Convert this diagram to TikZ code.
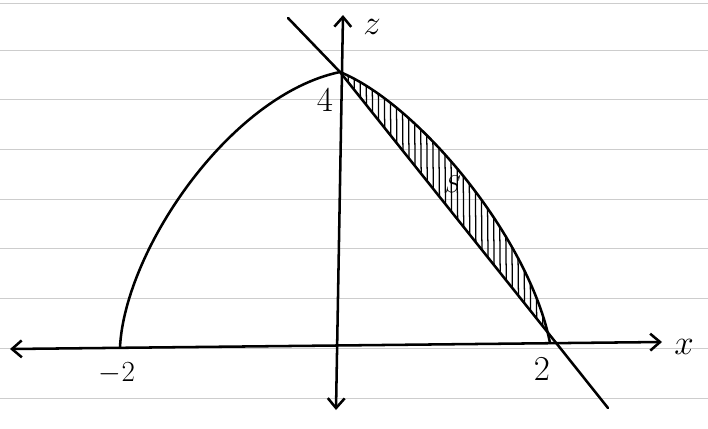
\documentclass[tikz,border=0pt]{standalone}
\usetikzlibrary{arrows.meta}
\definecolor{paperline}{RGB}{205,205,205}

\begin{document}
\begin{tikzpicture}[
    x=0.025cm, y=-0.025cm,
    ink/.style={line width=1.8pt, line cap=round, line join=round},
    hatch/.style={line width=0.9pt},
    lbl/.style={font=\fontsize{#1}{#1}\selectfont, inner sep=0pt},
    axis/.style={ink, {Straight Barb[length=7pt,width=12pt]}-{Straight Barb[length=7pt,width=12pt]}}
  ]
  \useasboundingbox (0,0) rectangle (708,428);
  % ruled paper
  \foreach \ly in {3,50,99,149,199,248,298,348,398}
    \draw[paperline, line width=0.6pt] (0,\ly) -- (708,\ly);

  \coordinate (apex)  at (340,72);
  \coordinate (lbase) at (120,347);
  \coordinate (rbase) at (550,343);
  \coordinate (ltop)  at (288,18);
  \coordinate (lend)  at (608,408);
  \coordinate (xl)    at (10,349);
  \coordinate (xr)    at (662,342);
  \coordinate (zt)    at (343,15);
  \coordinate (zb)    at (336,410);

  % hatched region between curve and line
  \begin{scope}
    \clip (apex) -- (lend) -- (708,428) -- (708,0) -- (340,0) -- cycle;
    \clip (apex) .. controls (420,105) and (530,240) .. (rbase) -- cycle;
    \foreach \hx in {342,348,...,556}
      \draw[hatch] (\hx,60) -- (\hx+3,350);
  \end{scope}

  % axes
  \draw[axis] (xl) -- (xr);
  \draw[axis] (zb) -- (zt);

  % curve and line
  \draw[ink] (lbase) .. controls (125,250) and (230,95) .. (apex)
                     .. controls (420,105) and (530,240) .. (rbase);
  \draw[ink] (ltop) -- (apex) -- (lend);

  \node[lbl=28] (zlbl) at (372,27)  {$z$};
  \node[lbl=28] (four) at (325,100) {$4$};
  \node[lbl=22] (mtwo) at (117,373) {$-2$};
  \node[lbl=24] (two)  at (542,369) {$2$};
  \node[lbl=30] (xlbl) at (684,347) {$x$};
  \node[lbl=18] (slbl) at (453,184) {$S$};
\end{tikzpicture}
\end{document}
